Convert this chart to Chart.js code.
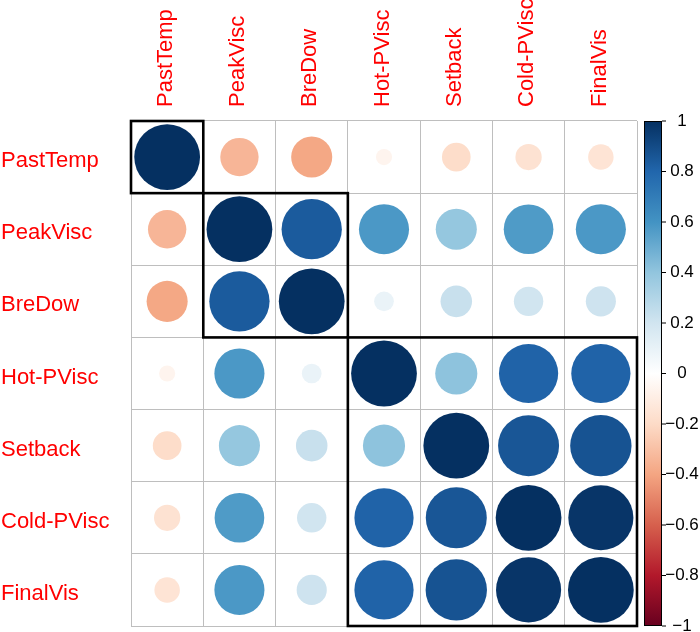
<!DOCTYPE html>
<html>
<head>
<meta charset="utf-8">
<script src="https://cdn.jsdelivr.net/npm/chart.js@4.4.1/dist/chart.umd.min.js"></script>
<style>
  html, body { margin: 0; padding: 0; background: #fff; }
  #wrap { width: 700px; height: 632px; }
</style>
</head>
<body>
<div id="wrap"><canvas id="myChart"></canvas></div>
<script>
// variable names, same order for rows and columns
var vars = ['PastTemp', 'PeakVisc', 'BreDow', 'Hot-PVisc', 'Setback', 'Cold-PVisc', 'FinalVis'];

// correlation rows
var rowPastTemp  = [ 1.00, -0.34, -0.39, -0.06, -0.19, -0.16, -0.15];
var rowPeakVisc  = [-0.34,  1.00,  0.84,  0.58,  0.39,  0.57,  0.58];
var rowBreDow    = [-0.39,  0.84,  1.00,  0.09,  0.23,  0.20,  0.21];
var rowHotPVisc  = [-0.06,  0.58,  0.09,  1.00,  0.41,  0.81,  0.81];
var rowSetback   = [-0.19,  0.39,  0.23,  0.41,  1.00,  0.86,  0.87];
var rowColdPVisc = [-0.16,  0.57,  0.20,  0.81,  0.86,  1.00,  0.98];
var rowFinalVis  = [-0.15,  0.58,  0.21,  0.81,  0.87,  0.98,  1.00];

// hclust groups along the diagonal
var clusterSizes = [1, 2, 4];

// colour bar ticks
var barTicks = [-1, -0.8, -0.6, -0.4, -0.2, 0, 0.2, 0.4, 0.6, 0.8, 1];

// RdBu palette from -1 to 1
var rdbu = ['#67001F', '#B2182B', '#D6604D', '#F4A582', '#FDDBC7', '#FFFFFF',
            '#D1E5F0', '#92C5DE', '#4393C3', '#2166AC', '#053061'];

var rows = [rowPastTemp, rowPeakVisc, rowBreDow, rowHotPVisc, rowSetback, rowColdPVisc, rowFinalVis];
var fontFam = '"Liberation Sans", Arial, Helvetica, sans-serif';

function hexRgb(h) {
  return [parseInt(h.substr(1, 2), 16), parseInt(h.substr(3, 2), 16), parseInt(h.substr(5, 2), 16)];
}
function colorFor(v) {
  var t = (v + 1) / 2 * (rdbu.length - 1);
  var i = Math.min(Math.floor(t), rdbu.length - 2);
  var f = t - i;
  var a = hexRgb(rdbu[i]), b = hexRgb(rdbu[i + 1]);
  var c = a.map(function (x, k) { return Math.round(x + (b[k] - x) * f); });
  return 'rgb(' + c.join(',') + ')';
}

var points = [];
rows.forEach(function (row, i) {
  row.forEach(function (v, j) {
    points.push({ x: vars[j], y: vars[i], v: v });
  });
});

function cellSize(chart) {
  var xs = chart.scales.x;
  var d = xs ? xs.getPixelForValue(1) - xs.getPixelForValue(0) : 0;
  return isFinite(d) && d > 0 ? d : 0;
}

// black boxes round the clusters
var clusterBoxes = {
  id: 'clusterBoxes',
  afterDatasetsDraw: function (chart) {
    var ctx = chart.ctx, xs = chart.scales.x, ys = chart.scales.y;
    var hx = cellSize(chart) / 2;
    var hy = Math.abs(ys.getPixelForValue(1) - ys.getPixelForValue(0)) / 2;
    var start = 0;
    ctx.save();
    ctx.strokeStyle = '#000';
    ctx.lineWidth = 2.6;
    clusterSizes.forEach(function (n) {
      var end = start + n - 1;
      var x0 = xs.getPixelForValue(start) - hx, x1 = xs.getPixelForValue(end) + hx;
      var ya = ys.getPixelForValue(start), yb = ys.getPixelForValue(end);
      var y0 = Math.min(ya, yb) - hy, y1 = Math.max(ya, yb) + hy;
      ctx.strokeRect(x0, y0, x1 - x0, y1 - y0);
      start += n;
    });
    ctx.restore();
  }
};

// colour legend on the right
var colorBar = {
  id: 'colorBar',
  afterDraw: function (chart) {
    var ctx = chart.ctx, cb = chart.scales.cb;
    var top = cb.getPixelForValue(1), bottom = cb.getPixelForValue(-1);
    var left = 644, right = 662;
    var g = ctx.createLinearGradient(0, bottom, 0, top);
    rdbu.forEach(function (c, i) { g.addColorStop(i / (rdbu.length - 1), c); });
    ctx.save();
    ctx.fillStyle = g;
    ctx.fillRect(left, top, right - left, bottom - top);
    ctx.strokeStyle = '#000';
    ctx.lineWidth = 1;
    ctx.strokeRect(left + 0.5, top + 0.5, right - left - 1, bottom - top - 1);
    ctx.font = '17px ' + fontFam;
    ctx.fillStyle = '#000';
    ctx.textAlign = 'center';
    ctx.textBaseline = 'middle';
    cb.ticks.forEach(function (t) {
      var y = cb.getPixelForValue(t.value);
      ctx.beginPath();
      ctx.moveTo(right, y);
      ctx.lineTo(right + 4, y);
      ctx.stroke();
      var v = Math.round(t.value * 10) / 10;
      var s = String(Math.abs(v));
      if (v < 0) s = '\u2212' + s;
      ctx.fillText(s, 682, y);
    });
    ctx.restore();
  }
};

var ctx = document.getElementById('myChart').getContext('2d');
var chart = new Chart(ctx, {
  type: 'scatter',
  data: {
    datasets: [{
      data: points,
      clip: false,
      showLine: false,
      pointBorderWidth: 0,
      pointHoverBorderWidth: 0,
      pointBackgroundColor: function (c) { return c.raw ? colorFor(c.raw.v) : '#fff'; },
      pointRadius: function (c) {
        if (!c.raw) return 0;
        return Math.sqrt(Math.abs(c.raw.v)) * cellSize(c.chart) * 0.455;
      }
    }]
  },
  options: {
    responsive: true,
    maintainAspectRatio: false,
    animation: false,
    events: [],
    layout: { autoPadding: false, padding: { left: 1, top: 0, right: 63, bottom: 6 } },
    plugins: { legend: { display: false }, tooltip: { enabled: false } },
    scales: {
      x: {
        type: 'category',
        labels: vars,
        position: 'top',
        offset: true,
        grid: { offset: true, color: '#BEBEBE', drawTicks: false },
        border: { display: false },
        ticks: {
          autoSkip: false, minRotation: 90, maxRotation: 90, padding: 14, labelOffset: 25,
          color: '#FF0000', font: { size: 22, family: fontFam }
        },
        afterFit: function (s) { s.height = 121; s.paddingLeft = 0; s.paddingRight = 0; }
      },
      y: {
        type: 'category',
        labels: vars,
        position: 'left',
        offset: true,
        grid: { offset: true, color: '#BEBEBE', drawTicks: false },
        border: { display: false },
        ticks: {
          autoSkip: false, crossAlign: 'far', padding: 0, labelOffset: 4,
          color: '#FF0000', font: { size: 22, family: fontFam }
        },
        afterFit: function (s) { s.width = 130; s.paddingTop = 0; s.paddingBottom = 0; }
      },
      cb: {
        type: 'linear',
        position: 'right',
        display: false,
        min: -1,
        max: 1,
        afterBuildTicks: function (s) {
          s.ticks = barTicks.map(function (v) { return { value: v }; });
        }
      }
    }
  },
  plugins: [clusterBoxes, colorBar]
});
</script>
</body>
</html>
